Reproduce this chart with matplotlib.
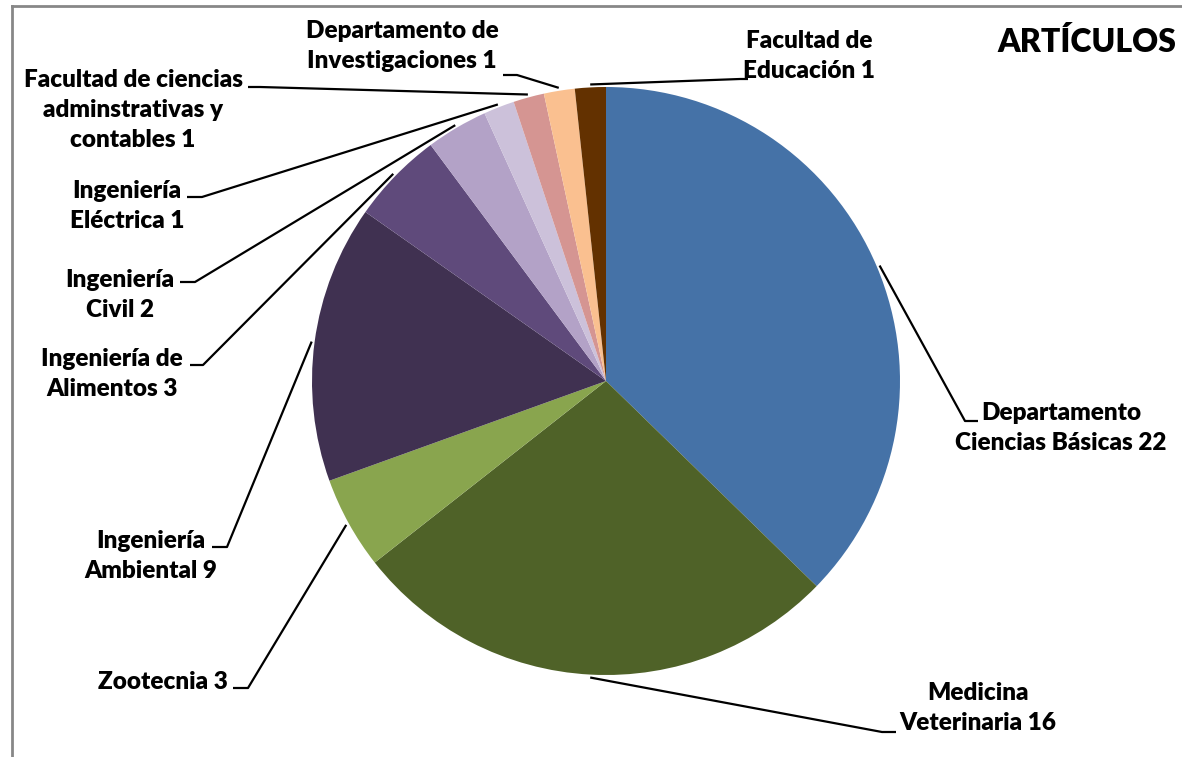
import numpy as np
import matplotlib
matplotlib.use("Agg")
import matplotlib.pyplot as plt

# =========================
# DATA
# =========================
labels = [
    "Departamento\nCiencias Básicas 22",
    "Medicina\nVeterinaria 16",
    "Zootecnia 3",
    "Ingeniería\nAmbiental 9",
    "Ingeniería de\nAlimentos 3",
    "Ingeniería\nCivil 2",
    "Ingeniería\nEléctrica 1",
    "Facultad de ciencias\nadminstrativas y\ncontables 1",
    "Departamento de\nInvestigaciones 1",
    "Facultad de\nEducación 1",
]
values = [22, 16, 3, 9, 3, 2, 1, 1, 1, 1]
colors = ["#4572A7", "#4F6228", "#89A54E", "#403151", "#5F4A7B",
          "#B3A2C7", "#CCC1DA", "#D59592", "#FAC090", "#633100"]
title = "ARTÍCULOS"

# =========================
# LAYOUT (pixels)
# =========================
W, H = 1182, 757
cx, cy, R = 606, 381, 294

text_xy = [(1061, 428), (978, 708), (163, 682), (151, 556), (112, 374),
           (120, 295), (127, 206), (133, 110), (402, 46), (809, 56)]
elbow_xy = [(965, 421), (882, 732), (248, 688), (227, 547), (203, 365),
            (195, 282), (202, 197), (260, 87), (517, 75), (740, 79)]
end_xy = [(978, 421), (896, 732), (233, 688), (212, 547), (190, 365),
          (180, 282), (187, 197), (248, 87), (503, 75), (748, 79)]

font = ["Lato", "DejaVu Sans"]

fig = plt.figure(figsize=(W / 100, H / 100), dpi=100)
fig.patch.set_facecolor("white")

ax = fig.add_axes([(cx - R) / W, (H - cy - R) / H, 2 * R / W, 2 * R / H])
wedges, _ = ax.pie(values, colors=colors, startangle=90, counterclock=False,
                   radius=1, wedgeprops=dict(linewidth=0))
ax.set_xlim(-1, 1)
ax.set_ylim(-1, 1)
ax.set_aspect("equal")
ax.axis("off")

# overlay in pixel coordinates for labels and leader lines
ov = fig.add_axes([0, 0, 1, 1])
ov.set_xlim(0, W)
ov.set_ylim(H, 0)
ov.axis("off")
ov.patch.set_alpha(0)

to_pix = ax.transData + ov.transData.inverted()

for w, lab, t, e, h in zip(wedges, labels, text_xy, elbow_xy, end_xy):
    ang = np.deg2rad((w.theta1 + w.theta2) / 2)
    px, py = to_pix.transform((1.01 * np.cos(ang), 1.01 * np.sin(ang)))
    ov.plot([px, e[0], h[0]], [py, e[1], h[1]], color="black", lw=1.6,
            solid_capstyle="butt")
    ov.text(t[0], t[1], lab, ha="center", va="center", multialignment="center",
            fontsize=17.5, fontweight="heavy", family=font, linespacing=1.45)

ov.text(997, 42, title, ha="left", va="center", fontsize=23,
        fontweight="heavy", family=font)

# chart frame (top and left edges visible)
ov.plot([12, W], [6, 6], color="#878787", lw=2)
ov.plot([12, 12], [6, H], color="#878787", lw=2)

fig.savefig("out.png", dpi=100)
